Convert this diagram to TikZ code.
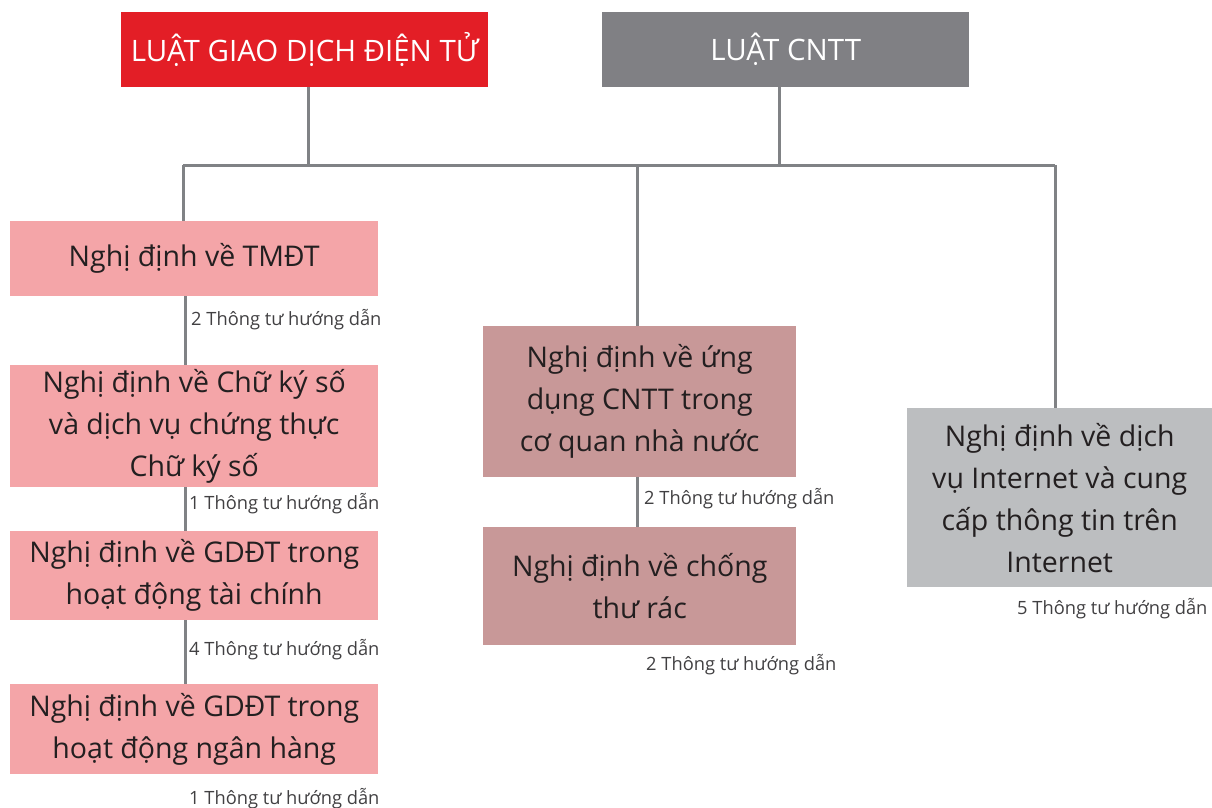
\documentclass[tikz,border=0pt]{standalone}
\usepackage{fontspec}
\setmainfont{Open Sans}
\usepackage{xcolor}
\usetikzlibrary{positioning}

\definecolor{gdred}{HTML}{E31E26}
\definecolor{cnttgray}{HTML}{808084}
\definecolor{ndpink}{HTML}{F4A5A8}
\definecolor{ndrose}{HTML}{C89898}
\definecolor{ndgray}{HTML}{BCBEC0}
\definecolor{linegray}{HTML}{808285}
\definecolor{txtdark}{HTML}{231F20}
\definecolor{notegray}{HTML}{414042}

\begin{document}
\begin{tikzpicture}[x=1pt,y=-1pt]
  \tikzstyle{box}=[rectangle, anchor=north west, inner sep=0pt, align=center,
    text=txtdark, font=\fontsize{28.5}{42}\selectfont]
  \tikzstyle{law}=[box, text=white, minimum width=367pt, minimum height=75pt,
    font=\fontsize{29.5}{36}\selectfont]
  \tikzstyle{note}=[anchor=west, inner sep=0pt, text=notegray,
    font=\fontsize{18.3}{20}\selectfont]
  \tikzstyle{link}=[draw=linegray, line width=3pt]

  \useasboundingbox (0,0) rectangle (1212,807);

  % luat
  \node[law, fill=gdred] (gd) at (121,12) {LUẬT GIAO DỊCH ĐIỆN TỬ};
  \node[law, fill=cnttgray] (cntt) at (602,12) {LUẬT CNTT};

  % nghi dinh, cot trai
  \node[box, fill=ndpink, minimum width=368pt, minimum height=75pt] (tmdt) at (10,221)
    {Nghị định về TMĐT};
  \node[box, fill=ndpink, minimum width=368pt, minimum height=122pt] (cks) at (10,365)
    {Nghị định về Chữ ký số\\và dịch vụ chứng thực\\Chữ ký số};
  \node[box, fill=ndpink, minimum width=368pt, minimum height=89pt] (taichinh) at (10,531)
    {Nghị định về GDĐT trong\\hoạt động tài chính};
  \node[box, fill=ndpink, minimum width=368pt, minimum height=90pt] (nganhang) at (10,684)
    {Nghị định về GDĐT trong\\hoạt động ngân hàng};

  % cot giua
  \node[box, fill=ndrose, minimum width=313pt, minimum height=151pt] (ungdung) at (483,326)
    {Nghị định về ứng\\dụng CNTT trong\\cơ quan nhà nước};
  \node[box, fill=ndrose, minimum width=313pt, minimum height=118pt] (thurac) at (483,527)
    {Nghị định về chống\\thư rác};

  % cot phai
  \node[box, fill=ndgray, minimum width=305pt, minimum height=179pt] (internet) at (907,408)
    {Nghị định về dịch\\vụ Internet và cung\\cấp thông tin trên\\Internet};

  % thong tu
  \node[note] (tt1) at (191,320) {2 Thông tư hướng dẫn};
  \node[note] (tt2) at (189,504) {1 Thông tư hướng dẫn};
  \node[note] (tt3) at (189,650) {4 Thông tư hướng dẫn};
  \node[note] (tt4) at (189,799) {1 Thông tư hướng dẫn};
  \node[note] (tt5) at (644,499) {2 Thông tư hướng dẫn};
  \node[note] (tt6) at (646,665) {2 Thông tư hướng dẫn};
  \node[note] (tt7) at (1017,609) {5 Thông tư hướng dẫn};

  % duong noi
  \coordinate (barL) at (183,165);
  \coordinate (barR) at (1055,165);
  \coordinate (colL) at (185,0);
  \coordinate (colM) at (637,0);
  \draw[link] (barL) -- (barR);
  \draw[link] (gd.south -| 308,0) -- (barL -| 308,0);
  \draw[link] (cntt.south -| 779,0) -- (barL -| 779,0);
  \draw[link] (barL) -- (barL |- tmdt.north);
  \draw[link] (barL -| colM) -- (ungdung.north -| colM);
  \draw[link] (barR) -- (barR |- internet.north);
  \draw[link] (tmdt.south -| colL) -- (cks.north -| colL);
  \draw[link] (cks.south -| colL) -- (taichinh.north -| colL);
  \draw[link] (taichinh.south -| colL) -- (nganhang.north -| colL);
  \draw[link] (ungdung.south -| colM) -- (thurac.north -| colM);
\end{tikzpicture}
\end{document}
